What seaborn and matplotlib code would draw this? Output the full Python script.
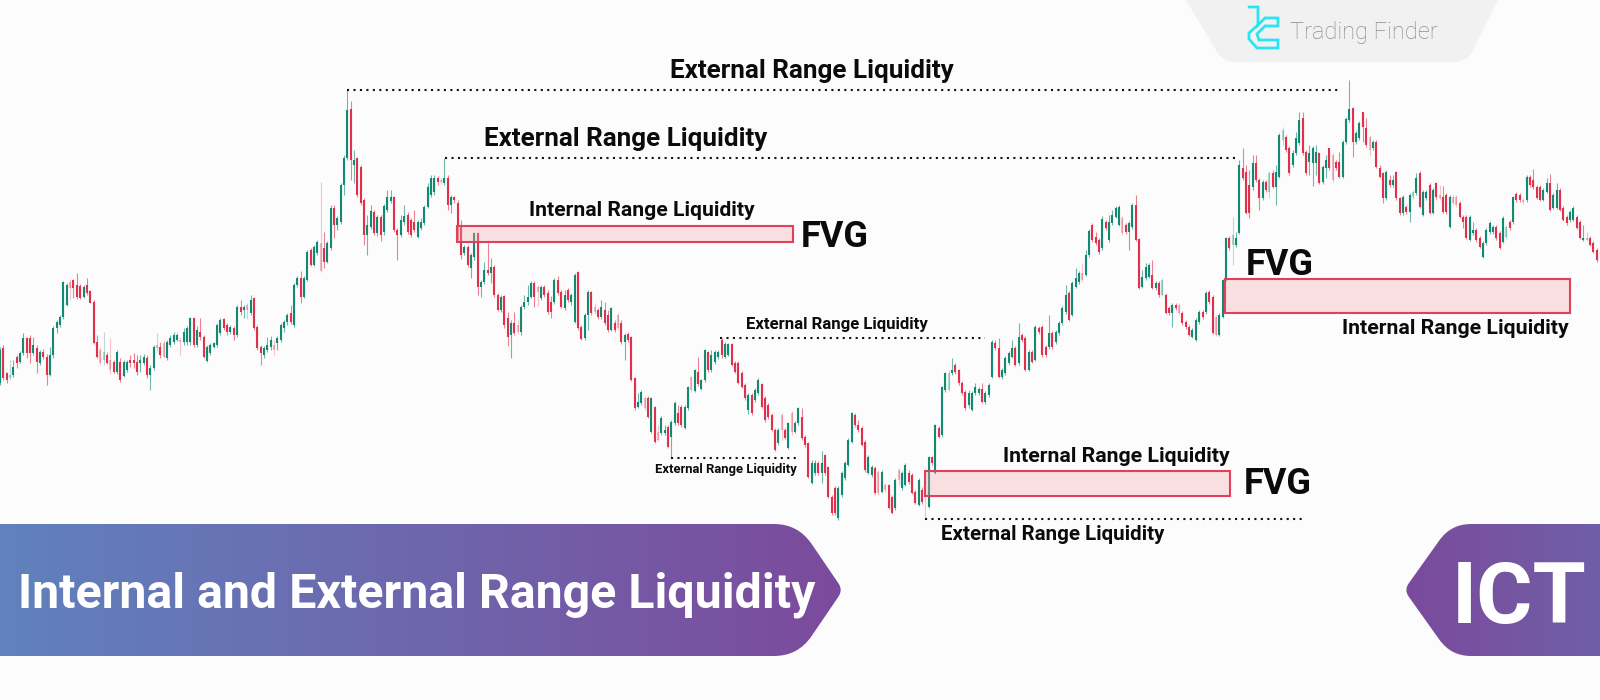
import numpy as np
import pandas as pd
import seaborn as sns
import matplotlib.pyplot as plt
from matplotlib.patches import PathPatch, Rectangle
from matplotlib.path import Path

# candle readings, the price axis runs downward like the picture
body_top = [
    350,348,373,375,367,357,353,338,338,338,345,348,352,352,357,355,328,322,317,282,
    285,282,280,285,286,287,285,291,302,342,350,352,355,360,362,352,362,362,362,
    360,360,362,360,357,358,368,347,345,347,343,342,338,335,335,340,332,328,318,318,
    330,332,337,347,345,343,325,320,319,325,327,328,307,307,307,305,300,298,327,347,
    348,345,340,345,338,325,322,315,313,285,278,278,278,252,250,247,242,243,248,243,
    208,208,218,185,158,110,109,160,158,167,200,225,211,212,217,217,206,197,197,197,
    230,220,216,215,220,222,222,222,207,187,178,178,178,180,178,178,197,197,203,227,
    247,247,255,233,233,282,270,270,267,267,295,297,296,318,323,323,325,307,302,297,
    283,283,287,287,287,293,302,280,280,292,295,290,295,275,272,327,315,292,292,307,
    310,307,310,315,308,323,315,323,335,334,337,378,402,392,398,398,398,407,432,418,
    430,427,422,403,413,407,407,387,377,370,372,380,350,352,355,352,352,340,344,344,344,
    363,363,373,385,395,395,390,380,384,398,405,415,430,430,415,430,423,413,423,408,
    417,437,443,463,463,463,463,455,467,497,488,488,473,463,440,413,415,425,428,442,
    457,467,468,472,472,485,485,497,480,470,473,465,473,475,492,480,490,490,457,457,
    425,428,387,373,373,370,365,370,383,392,393,393,387,389,389,393,385,342,343,348,
    370,358,353,348,348,337,335,338,352,352,327,328,327,347,333,333,332,323,308,295,
    293,283,278,273,273,255,231,225,237,240,219,222,222,215,208,207,218,225,223,205,
    205,239,277,267,265,275,283,283,280,295,308,305,305,305,313,322,327,330,320,312,
    312,293,292,297,317,315,280,238,238,235,238,165,168,172,185,163,163,180,182,182,
    173,173,172,135,130,137,148,153,138,120,118,152,153,148,152,153,167,160,148,155,
    162,162,142,119,109,108,133,123,112,128,137,142,142,168,173,172,180,180,172,198,
    197,207,195,192,178,173,192,192,185,190,183,195,197,195,197,197,197,203,217,217,
    217,230,230,238,243,230,223,227,227,233,218,227,222,197,194,195,200,177,177,180,
    187,187,190,183,183,195,190,190,208,217,212,208,217,222,238,238,238,243,250,
]
body_bottom = [
    383,378,380,378,375,363,362,353,353,353,353,362,363,357,375,375,355,328,325,317,
    305,288,288,297,298,297,293,303,343,357,363,360,363,370,372,372,380,376,370,
    363,363,372,363,363,375,375,368,348,355,357,358,345,342,340,342,342,342,342,345,
    345,337,357,361,353,347,345,333,328,332,332,335,335,312,310,310,313,328,348,353,
    355,350,347,350,343,340,328,322,322,325,285,297,297,280,265,265,253,271,262,262,
    248,225,225,222,185,158,160,165,195,203,235,235,227,233,233,235,232,210,201,230,
    235,235,222,232,235,230,237,228,223,207,195,192,182,182,183,205,205,200,227,255,
    253,265,268,257,287,287,282,273,273,295,310,310,325,337,335,333,332,332,307,302,
    297,297,292,298,295,312,312,302,293,307,308,300,302,322,328,339,338,315,313,312,
    317,317,323,330,330,330,328,342,342,340,380,408,407,403,408,417,432,442,440,433,
    433,447,437,423,423,425,428,408,390,391,384,389,380,370,370,362,357,355,357,355,365,
    372,383,387,398,410,413,400,393,407,420,417,430,450,443,430,438,448,432,432,423,
    438,445,477,483,473,473,473,473,497,513,513,518,495,478,465,442,425,430,445,470,
    473,475,493,493,492,490,508,513,508,480,488,485,482,493,503,505,502,497,507,463,
    473,437,435,390,390,373,372,383,393,408,405,410,393,393,402,402,395,377,348,377,
    377,373,363,357,365,363,340,370,370,362,360,332,355,355,347,347,342,333,323,312,
    320,315,287,282,280,275,255,240,243,252,248,228,240,223,217,225,233,232,232,227,
    240,288,287,278,277,288,288,295,295,313,313,313,308,313,323,327,335,337,340,322,
    317,312,302,333,335,335,317,280,248,245,245,233,178,213,213,187,180,198,198,190,
    192,187,187,177,140,150,173,165,153,143,153,173,162,163,163,183,182,168,168,180,
    168,177,177,142,120,142,142,138,127,145,150,148,167,177,198,198,185,185,198,213,
    213,212,212,197,193,207,215,198,213,213,197,198,212,212,227,203,205,217,222,238,
    240,233,240,247,257,243,232,232,238,248,242,237,228,222,200,200,202,200,185,187,
    198,200,200,192,210,208,208,210,220,223,220,220,228,238,240,240,245,252,260,
]
wick_high = [
    347,345,372,360,360,355,351,333,337,335,337,345,350,349,354,347,326,320,315,281,
    283,279,279,273,284,285,278,290,300,335,347,332,352,338,360,350,358,360,360,
    355,353,355,355,354,355,365,345,333,342,340,340,335,332,333,337,328,326,317,317,
    326,318,335,345,343,342,323,318,318,323,325,326,305,300,305,303,295,297,325,345,
    346,337,336,340,336,323,320,313,305,283,276,271,276,250,248,245,240,182,232,241,
    205,205,216,183,155,90,101,150,157,165,198,215,205,210,215,215,204,190,190,196,
    228,215,205,212,218,210,220,218,205,183,175,175,176,178,158,175,195,196,200,220,
    245,245,253,232,232,280,262,243,258,265,293,295,295,312,320,312,320,305,295,285,
    281,281,285,285,285,290,296,278,276,290,290,288,293,273,271,325,313,290,291,303,
    308,300,302,310,307,320,313,320,333,332,336,377,393,390,396,396,397,406,425,416,
    425,425,420,401,405,405,405,386,376,369,357,379,349,351,350,350,350,338,342,343,343,
    361,361,371,383,393,393,388,378,383,396,403,413,428,428,413,428,422,411,421,407,
    408,435,442,460,460,461,451,454,466,495,486,486,471,461,438,412,413,420,426,440,
    455,465,466,470,470,483,484,495,478,468,471,463,470,473,490,478,487,470,456,456,
    424,426,386,372,370,358,363,369,381,390,390,391,383,387,383,391,383,340,340,338,
    368,356,351,340,346,323,333,336,350,350,325,326,325,345,315,331,330,321,306,285,
    291,281,268,271,263,250,229,223,232,238,216,220,215,210,206,205,216,223,221,203,
    195,238,270,263,263,260,281,281,278,293,306,303,303,303,311,320,325,328,318,310,
    310,291,290,295,315,313,279,237,236,217,232,160,148,165,170,155,155,178,180,180,
    171,170,165,133,127,135,146,150,132,112,112,150,145,146,145,152,165,155,148,153,
    160,152,140,117,80,107,131,121,112,118,135,140,140,165,172,170,175,175,171,197,
    195,205,193,190,173,171,190,190,183,188,182,185,186,193,195,195,195,201,215,215,
    215,222,228,236,241,228,221,225,225,231,216,225,220,196,192,193,198,175,175,169,
    185,185,188,178,174,193,183,188,206,215,210,206,215,220,225,232,236,241,248,
]
wick_low = [
    385,380,383,380,377,368,363,355,358,363,355,373,365,359,385,376,358,333,327,319,
    306,300,298,299,299,298,295,303,344,358,365,365,364,374,373,374,382,377,372,
    367,368,375,372,365,378,390,370,352,358,358,360,347,344,341,355,345,345,345,347,
    347,340,358,362,355,348,347,335,330,335,334,340,337,315,318,319,315,330,350,365,
    358,352,350,355,350,342,332,325,324,327,287,303,298,281,266,266,255,272,268,263,
    250,238,230,224,195,160,180,183,197,205,245,255,229,235,236,241,235,212,203,232,
    260,237,225,234,237,232,238,230,225,208,197,195,185,184,185,210,213,203,240,259,
    255,267,278,260,295,297,284,275,283,297,311,312,328,346,358,335,334,335,309,305,
    298,307,306,300,297,314,318,304,295,308,310,302,305,323,330,340,340,330,315,314,
    319,319,325,332,331,332,330,344,360,342,381,410,408,405,410,418,433,443,441,435,
    435,448,458,425,425,427,429,410,392,392,386,390,382,372,372,364,359,358,358,356,366,
    373,384,388,400,414,415,402,395,408,422,419,431,451,445,440,439,449,435,433,425,
    440,447,478,484,475,475,483,475,498,515,515,520,497,480,466,443,427,432,446,472,
    474,477,494,495,493,492,509,514,510,485,490,486,484,494,504,506,504,518,508,465,
    474,438,437,392,391,375,374,385,395,410,408,411,395,395,403,404,397,378,350,378,
    379,375,365,358,366,365,342,371,371,363,361,334,357,357,349,349,344,335,325,314,
    321,316,288,284,282,276,257,242,245,254,250,230,242,225,218,226,235,234,250,229,
    241,289,288,280,278,289,290,297,296,314,315,327,310,315,325,329,336,338,341,324,
    319,314,304,334,336,336,318,281,250,265,247,234,180,214,218,190,182,210,200,192,
    198,188,205,178,145,152,175,167,155,145,155,175,175,186,175,184,184,178,170,182,
    170,178,178,144,122,157,144,140,142,147,156,150,168,178,203,200,187,187,200,215,
    215,214,222,199,195,208,216,200,214,214,199,200,213,214,228,205,207,218,228,239,
    241,235,242,248,258,245,234,234,240,249,243,239,230,224,202,202,204,202,187,189,
    199,201,201,193,211,209,209,211,221,225,222,221,229,239,241,241,246,253,262,
]
up_down = (
    "grrggrggrrgrgrrggggg" "grrrrgrrrrrgrrrgrgg" "rrrggrggrrrggggrgggr"
    "grrgggggrrgrgrgrgrrr" "gggrggggrggrggrggrrg" "grggggrgrrrggrgrgggr"
    "rggrrrggggggrrgrgrrr" "grggrggrgrrgrrgrrggg" "grrgrrrgrrgrggrrggrr"
    "rgrrgrrrgrrrggrrgrrg" "grggrrggrgrggrgggrggr" "rrrrgrggrrrrrgrrgrgg"
    "rrrggrgrrrrgggggrrrr" "ggrrgrrrgrggrrrgrrgr" "grggggrrrrggggrgggrr"
    "ggggrgrrgrgrrrgrgggg" "rgggrggrrrgrggggrrgg" "rrgggrgrgrrgrrrrrggg"
    "rgrrrgggrgggrrrgrrgr" "grgggrrgggrrgggrggrr" "rrgggrggrrrgrrrgrgrr"
    "grgggrggrgrrrrgrrrrr" "ggrrggggrrggrgrrrgrr" "rrggrggrrrggrrggrrr"
)
faded = [3, 21, 30, 31, 33, 47, 49, 54, 74, 82, 96, 132, 155, 161, 178, 185, 193, 197,
         207, 234, 237, 263, 265, 269, 277, 284, 324, 336, 348, 353, 364, 369, 380, 384,
         399, 410, 423, 431, 435, 436, 451, 456, 475]

# dotted liquidity levels, in candle numbers and price
level_price = [90, 158, 338, 458, 519]
level_from = [104, 133.2, 215.6, 201, 277]
level_to = [401.2, 370.3, 295, 239.5, 390.5]

# fair value gaps
fvg_from = [136.8, 277, 366.8]
fvg_to = [237.5, 368.3, 470]
fvg_top = [226, 471, 279]
fvg_bottom = [242, 496, 313]

ext_label = "External Range Liquidity"
int_label = "Internal Range Liquidity"

BG = "#fcfcfc"
UP = "#128a72"
DOWN = "#e0304c"
DOT_STYLE = (0, (1, 2.1))

sns.set_theme(style="white", rc={"figure.facecolor": BG, "axes.facecolor": BG})
plt.rcParams["font.family"] = ["Roboto", "DejaVu Sans"]

fig = plt.figure(figsize=(16, 7), dpi=100)
ax = fig.add_axes([0, 0, 1, 1])

n = len(body_top)
assert n == len(body_bottom) == len(wick_high) == len(wick_low) == len(up_down)
candles = pd.DataFrame({
    "n": np.arange(n), "top": body_top, "bottom": body_bottom,
    "high": wick_high, "low": wick_low, "side": list(up_down),
})
candles["faded"] = candles["n"].isin(faded)
palette = {"g": UP, "r": DOWN}


def draw_sticks(df, start, end, width, alpha):
    # one short vertical line per candle
    long_df = df.melt(id_vars=["n", "side"], value_vars=[start, end], value_name="price")
    sns.lineplot(data=long_df, x="n", y="price", units="n", estimator=None, hue="side",
                 palette=palette, linewidth=width, alpha=alpha, legend=False, ax=ax,
                 solid_capstyle="butt")


solid = candles[~candles["faded"]]
pale = candles[candles["faded"]]
draw_sticks(solid, "high", "low", 0.8, 0.6)
draw_sticks(solid, "top", "bottom", 1.5, 1.0)
draw_sticks(pale, "high", "low", 0.8, 0.28)
draw_sticks(pale, "top", "bottom", 1.5, 0.32)

ax.hlines(level_price, level_from, level_to, colors="#111111", linewidth=1.5, linestyles=[DOT_STYLE])
for x0, x1, top, bottom in zip(fvg_from, fvg_to, fvg_top, fvg_bottom):
    ax.add_patch(Rectangle((x0, top), x1 - x0, bottom - top, facecolor="#f4a6ac", alpha=0.33,
                           edgecolor="none", zorder=3))
    ax.add_patch(Rectangle((x0, top), x1 - x0, bottom - top, facecolor="none",
                           edgecolor="#e0405a", linewidth=1.5, zorder=4))

ax.set_xlim(0, n)
ax.set_ylim(700, 0)
ax.axis("off")

# second axes in picture pixels for the labels and the banners
deco = fig.add_axes([0, 0, 1, 1], facecolor="none")
deco.set_xlim(0, 1600)
deco.set_ylim(700, 0)
deco.axis("off")


def label(x, y, txt, size, ha="center", color="#0b0b0b", weight="bold", **kw):
    deco.text(x, y, txt, fontsize=size, ha=ha, va="center", color=color, fontweight=weight, **kw)


label(812, 71, ext_label, 18.8)
label(626, 139, ext_label, 18.7)
label(642, 211, int_label, 15.2)
label(835, 237, "FVG", 26)
label(837, 325, ext_label, 12.1)
label(726, 470, ext_label, 9.35)
label(1116, 457, int_label, 15.35)
label(1278, 484, "FVG", 26)
label(1280, 265, "FVG", 26)
label(1455, 329, int_label, 15.35)
label(1053, 534, ext_label, 14.75)


def rounded(points, radius):
    # closed polygon whose corners are rounded off with quadratic curves
    verts, codes = [], []
    pts = [np.array(p, dtype=float) for p in points]
    for i, p in enumerate(pts):
        a, b = pts[i - 1], pts[(i + 1) % len(pts)]
        r = radius[i]
        p0 = p + (a - p) / np.linalg.norm(a - p) * r if r else p
        p1 = p + (b - p) / np.linalg.norm(b - p) * r if r else p
        verts.append(p0)
        codes.append(Path.MOVETO if i == 0 else Path.LINETO)
        if r:
            verts += [p, p1]
            codes += [Path.CURVE3, Path.CURVE3]
    verts.append(verts[0])
    codes.append(Path.CLOSEPOLY)
    return Path(verts, codes)


def gradient_shape(path, x0, x1, y0, y1, left, right):
    cmap = sns.blend_palette([left, right], as_cmap=True)
    im = deco.imshow(np.linspace(0, 1, 256)[None, :], extent=[x0, x1, y1, y0], cmap=cmap,
                     aspect="auto", zorder=5)
    patch = PathPatch(path, transform=deco.transData, facecolor="none", edgecolor="none")
    deco.add_patch(patch)
    im.set_clip_path(patch)


gradient_shape(rounded([(-20, 524), (798, 524), (843, 590), (798, 656), (-20, 656)], [0, 24, 8, 24, 0]),
               0, 845, 524, 656, "#6082bd", "#7c4a9c")
gradient_shape(rounded([(1404, 590), (1451, 524), (1620, 524), (1620, 656), (1451, 656)], [8, 20, 0, 0, 20]),
               1404, 1600, 524, 656, "#7c4a9c", "#6f5fa8")
label(417, 595, "Internal and External Range Liquidity", 34.8, color="white", zorder=6)
label(1519, 600, "ICT", 62, color="white", zorder=6)

# logo tab
deco.add_patch(PathPatch(rounded([(1183, -5), (1500, -5), (1467, 62), (1223, 62)], [0, 0, 12, 12]),
                         facecolor="#f1f1f1", edgecolor="none", zorder=5))
logo_x = [1249, 1258, 1258, 1265, 1278, 1278, 1265, 1257, 1259, 1278, 1278, 1257, 1249, 1249, 1258]
logo_y = [7, 7, 25, 18, 18, 26, 26, 34, 40, 40, 48, 48, 39, 33, 25]
deco.plot(logo_x, logo_y, color="#29e4f2", linewidth=2, zorder=6, solid_joinstyle="miter")
label(1364, 32, "Trading Finder", 17, color="#8e8e8e", weight="light", zorder=6)

deco.set_xlim(0, 1600)
deco.set_ylim(700, 0)

fig.savefig("out.png", dpi=100, facecolor=BG)
